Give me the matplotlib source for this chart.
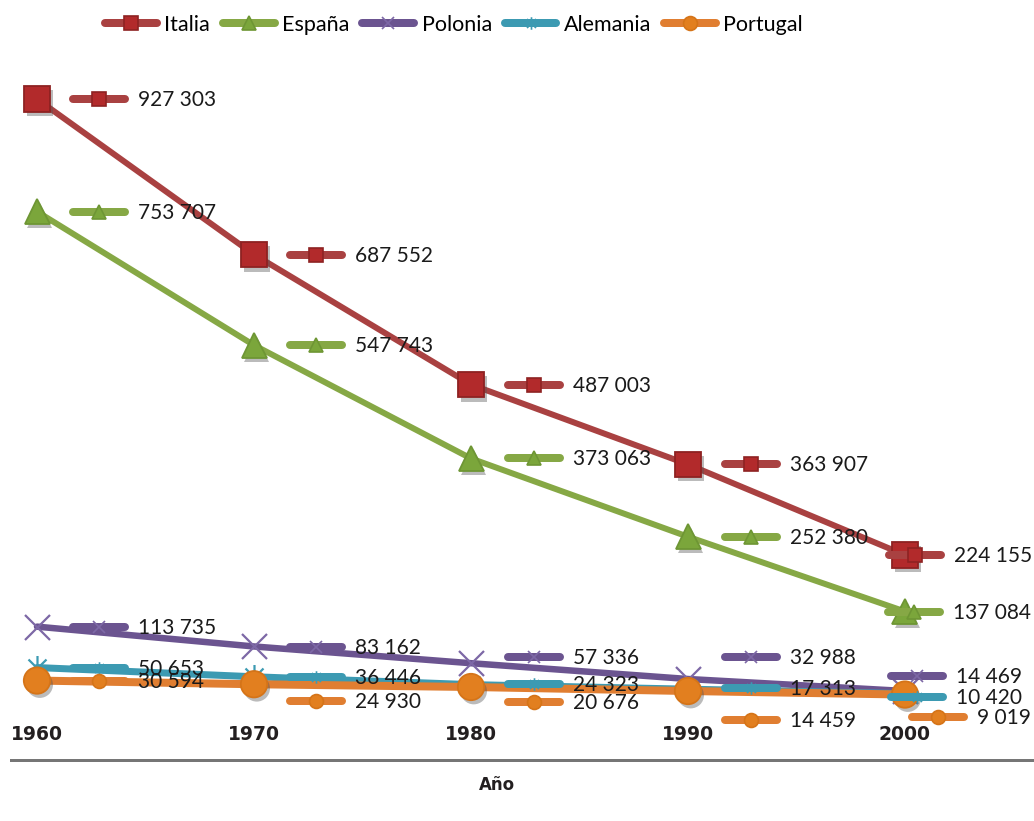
import matplotlib
matplotlib.use("Agg")
import matplotlib.pyplot as plt
from matplotlib.lines import Line2D
from matplotlib.markers import MarkerStyle
from matplotlib.path import Path
from matplotlib.transforms import offset_copy
import matplotlib.patheffects as pe

# ---------------- data ----------------
years = [1960, 1970, 1980, 1990, 2000]
year_labels = ["1960", "1970", "1980", "1990", "2000"]
series_names = ["Italia", "España", "Polonia", "Alemania", "Portugal"]
italia = [927303, 687552, 487003, 363907, 224155]
espana = [753707, 547743, 373063, 252380, 137084]
polonia = [113735, 83162, 57336, 32988, 14469]
alemania = [50653, 36446, 24323, 17313, 10420]
portugal = [30594, 24930, 20676, 14459, 9019]
x_title = "Año"

# ---------------- style / layout ----------------
DPI = 100
W, H = 1034, 821
FONT = "Lato"

star_path = Path([(0, -1), (0, 1), (-0.72, -0.72), (0.72, 0.72), (-0.72, 0.72), (0.72, -0.72)],
                 [Path.MOVETO, Path.LINETO, Path.MOVETO, Path.LINETO, Path.MOVETO, Path.LINETO])

styles = [
    dict(line="#A94141", face="#B22A2B", edge="#8E2222", marker="s", ms=18.5, kms=9.5, shadow=True, lw=6),
    dict(line="#86A845", face="#7BA63B", edge="#6E9634", marker="^", ms=18, kms=10, shadow=True, lw=6),
    dict(line="#6B5490", face="none", edge="#7D68A6", marker="x", ms=18, kms=9, shadow=False, lw=6.5),
    dict(line="#3C9AB2", face="none", edge="#3C9AB2", marker=star_path, ms=18, kms=9, shadow=False, lw=7),
    dict(line="#E07E31", face="#E27F1F", edge="#D57418", marker="o", ms=19, kms=10, shadow=True, lw=8),
]

# label key centre x-offsets and vertical offsets (pixels, +dy = downwards)
label_dx = [
    [62, 62, 63, 63, 10],
    [62, 62, 63, 63, 9],
    [62, 62, 63, 63, 12],
    [62, 62, 63, 63, 12],
    [62, 62, 63, 63, 33],
]
label_dy = [
    [0, 0, 0, 0, 0],
    [0, 0, 0, 0, 0],
    [0, 1, -6, -22, -15],
    [0, 0, -1, -1, 3],
    [0, 17, 15, 29, 22],
]

fig = plt.figure(figsize=(W / DPI, H / DPI), dpi=DPI)
ax_left, ax_right, ax_top, ax_bottom = 11, 1034, 50, 760
ax = fig.add_axes([ax_left / W, 1 - ax_bottom / H, (ax_right - ax_left) / W, (ax_bottom - ax_top) / H])

# scale: 1960 -> x=37px, 2000 -> x=905px ; value 0 -> y=700.4px, 6.485e-4 px / unit
px_per_year = (905 - 37) / 40.0
x0 = 1960 - (37 - ax_left) / px_per_year
x1 = 1960 + (ax_right - 37) / px_per_year
px_per_val = 6.485e-4
y1 = (700.4 - ax_top) / px_per_val
y0 = -(ax_bottom - 700.4) / px_per_val
ax.set_xlim(x0, x1)
ax.set_ylim(y0, y1)

data = [italia, espana, polonia, alemania, portugal]
PT = 72.0 / DPI  # points per pixel

for i, (name, vals, st) in enumerate(zip(series_names, data, styles)):
    ax.plot(years, vals, color=st["line"], lw=st["lw"] * PT, solid_capstyle="round",
            solid_joinstyle="round", zorder=2 + i * 0.1)
    peff = [pe.SimplePatchShadow(offset=(2, -3), shadow_rgbFace="#555555", alpha=0.4), pe.Normal()] if st["shadow"] else None
    ax.plot(years, vals, ls="none", marker=st["marker"], ms=st["ms"],
            mfc=st["face"], mec=st["edge"], mew=1.3 if st["shadow"] else 1.6,
            zorder=3 + i * 0.1, path_effects=peff)

# data labels with legend-key symbol
seg = MarkerStyle("_", capstyle="round")
for i, (vals, st) in enumerate(zip(data, styles)):
    for j, (yr, v) in enumerate(zip(years, vals)):
        dx = label_dx[i][j]
        dy = label_dy[i][j]
        tr = offset_copy(ax.transData, fig=fig, x=dx, y=-dy, units="dots")
        ax.plot([yr], [v], ls="none", marker=seg, ms=52 * PT, mew=8 * PT,
                mec=st["line"], transform=tr, zorder=6)
        ax.plot([yr], [v], ls="none", marker=st["marker"], ms=st["kms"],
                mfc=st["face"], mec=st["edge"], mew=1.2, transform=tr, zorder=6.1)
        trt = offset_copy(ax.transData, fig=fig, x=dx + 39, y=-dy - 1, units="dots")
        txt = f"{v:,}".replace(",", " ")
        ax.text(yr, v, txt, transform=trt, ha="left", va="center",
                fontsize=15, family=FONT, color="#1a1a1a", zorder=7)

# axes styling
for s in ["left", "right", "top"]:
    ax.spines[s].set_visible(False)
ax.spines["bottom"].set_color("#767676")
ax.spines["bottom"].set_linewidth(3 * PT)
ax.set_yticks([])
ax.set_xticks(years)
ax.set_xticklabels(year_labels, fontsize=13.5, fontweight="bold", family="DejaVu Sans", color="#231f20")
ax.tick_params(axis="x", length=0, pad=-18.5)
for lbl in ax.get_xticklabels():
    lbl.set_verticalalignment("center")

fig.text(497 / W, 1 - 785 / H, x_title, ha="center", va="center", fontsize=12,
         fontweight="bold", family="DejaVu Sans", color="#231f20")

# legend
handles = [Line2D([], [], color=st["line"], lw=8 * PT, solid_capstyle="round",
                  marker=st["marker"], ms=st["kms"], mfc=st["face"], mec=st["edge"], mew=1.2)
           for st in styles]
fig.legend(handles, series_names, loc="center", bbox_to_anchor=(454 / W, 1 - 25 / H),
           ncol=5, frameon=False, prop={"family": FONT, "size": 15.5},
           handlelength=2.4, handletextpad=0.35, columnspacing=0.6, borderpad=0.1)

fig.savefig("out.png", dpi=DPI)
